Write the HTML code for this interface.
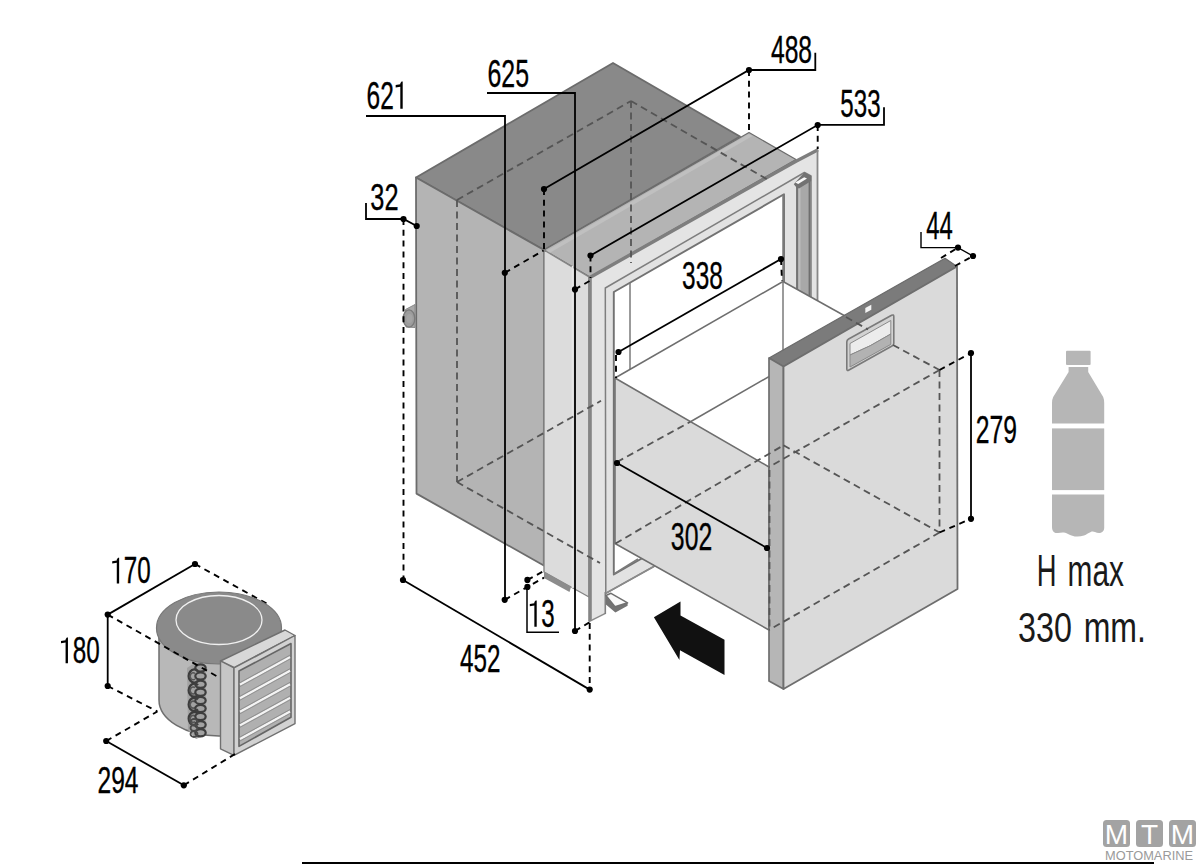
<!DOCTYPE html>
<html><head><meta charset="utf-8"><style>
html,body{margin:0;padding:0;background:#fff;}
svg{display:block;}
text{font-family:"Liberation Sans",sans-serif;}
</style></head><body>
<svg width="1200" height="864" viewBox="0 0 1200 864">
<rect width="1200" height="864" fill="#fff"/>
<polygon points="416,177.5 613,63 740,136.5 544,250" fill="#898989" stroke="#6c6c6c" stroke-width="1.8" stroke-linejoin="round" />
<polygon points="416,177.5 544,250 543.8,565.5 416.5,493.6" fill="#b4b4b4" stroke="#6c6c6c" stroke-width="1.8" stroke-linejoin="round" />
<polygon points="544,250 749,132.5 796,159.5 590,277" fill="#b4b4b4" stroke="#6c6c6c" stroke-width="1.2" stroke-linejoin="round" />
<polygon points="546,251 749,134 752.5,136 549.5,253" fill="#c0c0c0" stroke="none" stroke-width="1" stroke-linejoin="round" />
<polygon points="544,250 589,277 589,597 544,572" fill="#dcdcdc" stroke="#858585" stroke-width="1.4" stroke-linejoin="round" />
<line x1="572.5" y1="266" x2="572.5" y2="588" stroke="#e6e6e6" stroke-width="1.6" />
<polygon points="589,277.5 818,149.6 818,473 605.8,593.3 605.4,613.3 589,621.7" fill="#e4e4e4" stroke="none" stroke-width="1" stroke-linejoin="round" />
<polygon points="605.3,288 804.4,172.5 811,176 811,478 605.8,593.3" fill="#e2e2e2" stroke="#7e7e7e" stroke-width="1.5" stroke-linejoin="round" />
<polygon points="613.8,292 784,194.3 784,477 613.8,574.5" fill="#ffffff" stroke="#727272" stroke-width="1.9" stroke-linejoin="round" />
<line x1="630" y1="283" x2="630" y2="369" stroke="#7a7a7a" stroke-width="1.5" />
<polygon points="797,186 809.5,179 809.5,298 797,298" fill="#a8a8a8" stroke="#6e6e6e" stroke-width="1.8" stroke-linejoin="round" />
<line x1="799.5" y1="187" x2="799.5" y2="296" stroke="#bdbdbd" stroke-width="2" />
<polygon points="793.8,184.2 804.4,172.3 811.2,176 811.2,181 799,188.5 796.5,187.5" fill="#727272" stroke="none" stroke-width="1" stroke-linejoin="round" />
<polygon points="795.3,182.6 804.2,177.2 807,178.6 798.2,184" fill="#fafafa" stroke="none" stroke-width="1" stroke-linejoin="round" />
<polyline points="589,278 796,161.2 818,149.8" fill="none" stroke="#7e7e7e" stroke-width="3.4" stroke-linejoin="miter"/>
<line x1="590" y1="277" x2="590" y2="621" stroke="#858585" stroke-width="3.6" />
<line x1="817.5" y1="149.6" x2="817.5" y2="301" stroke="#888" stroke-width="1.8" />
<line x1="589" y1="621.7" x2="605.4" y2="613.3" stroke="#8a8a8a" stroke-width="1.4" />
<line x1="605.3" y1="592" x2="605.3" y2="614" stroke="#808080" stroke-width="1.6" />
<polygon points="605.9,596 615,606.5 627.6,602.8 627.6,605.8 615.4,612.5 605.9,604.5" fill="#737373" stroke="none" stroke-width="1" stroke-linejoin="round" />
<polygon points="605.9,595.5 611,593.3 627.6,602.8 615,606.8" fill="#fafafa" stroke="#707070" stroke-width="1.5" stroke-linejoin="round" />
<polygon points="544,571.5 571,587 569.5,592 544,578" fill="#8c8c8c" stroke="none" stroke-width="1" stroke-linejoin="round" />
<line x1="457" y1="200" x2="631" y2="101" stroke="#555" stroke-width="1.8" stroke-dasharray="7,4.5" />
<line x1="631" y1="101" x2="770" y2="181" stroke="#555" stroke-width="1.8" stroke-dasharray="7,4.5" />
<line x1="631" y1="101" x2="631" y2="263" stroke="#555" stroke-width="1.8" stroke-dasharray="7,4.5" />
<line x1="457" y1="200" x2="457" y2="482" stroke="#555" stroke-width="1.8" stroke-dasharray="7,4.5" />
<line x1="457" y1="482" x2="600" y2="563" stroke="#555" stroke-width="1.8" stroke-dasharray="7,4.5" />
<line x1="457" y1="482" x2="601" y2="400.8" stroke="#555" stroke-width="1.8" stroke-dasharray="7,4.5" />
<polygon points="615,378 783,281.5 845,316 769,358 769,467" fill="#ffffff" stroke="none" stroke-width="1" stroke-linejoin="round" />
<polygon points="615,378 769,467 769,630 615,543.5" fill="#dadada" stroke="#6e6e6e" stroke-width="1.5" stroke-linejoin="round" />
<line x1="615" y1="378" x2="783" y2="281.5" stroke="#6e6e6e" stroke-width="1.5" />
<line x1="783" y1="194.5" x2="783" y2="350" stroke="#7a7a7a" stroke-width="1.5" />
<line x1="783" y1="281.5" x2="845" y2="316" stroke="#6e6e6e" stroke-width="1.5" />
<line x1="690" y1="422" x2="783" y2="368.5" stroke="#6e6e6e" stroke-width="1.5" />
<line x1="617" y1="462" x2="690" y2="422" stroke="#555" stroke-width="1.8" stroke-dasharray="7,4.5" />
<line x1="613.5" y1="574.2" x2="638" y2="559" stroke="#7a7a7a" stroke-width="1.6" />
<line x1="605.8" y1="593.3" x2="654" y2="566.5" stroke="#8a8a8a" stroke-width="1.6" />
<polygon points="769,358 945,258.3 957,266.5 783.5,366.5" fill="#7b7b7b" stroke="#6a6a6a" stroke-width="1.2" stroke-linejoin="round" />
<polygon points="769,358 783.5,366.5 783.5,689 769,681" fill="#b6b6b6" stroke="#6e6e6e" stroke-width="1.7" stroke-linejoin="round" />
<polygon points="783.5,366.5 957,266.5 957.5,589 783.5,689" fill="#dadada" stroke="#6e6e6e" stroke-width="1.8" stroke-linejoin="round" />
<path d="M846.8,342 Q846.8,340 848.6,339 L891.6,315.3 Q893.8,314.2 893.8,316.5 L893.8,343.6 Q893.8,345 892,346 L849,370 Q846.8,371.3 846.8,369 Z" fill="#d2d2d2" stroke="#7a7a7a" stroke-width="1.6"/>
<path d="M850,343.5 L890.8,320.5 L890.8,334 Q870,347 850,355 Z" fill="#ececec" stroke="#8a8a8a" stroke-width="1"/>
<path d="M850,355 Q870,347 890.8,334 L890.8,344.4 L850,367 Z" fill="#b2b2b2" stroke="#8a8a8a" stroke-width="1"/>
<polygon points="865.3,308 871.3,304.8 871.3,309.8 865.3,313" fill="#f4f4f4" stroke="none" stroke-width="1" stroke-linejoin="round" />
<line x1="846" y1="317" x2="868" y2="329.5" stroke="#555" stroke-width="1.8" stroke-dasharray="7,4.5" />
<line x1="893" y1="345" x2="939.5" y2="370" stroke="#555" stroke-width="1.8" stroke-dasharray="7,4.5" />
<line x1="939.5" y1="370" x2="939.5" y2="532.5" stroke="#555" stroke-width="1.8" stroke-dasharray="7,4.5" />
<line x1="939.5" y1="370" x2="769" y2="467" stroke="#555" stroke-width="1.8" stroke-dasharray="7,4.5" />
<line x1="939.5" y1="532.5" x2="769" y2="630" stroke="#555" stroke-width="1.8" stroke-dasharray="7,4.5" />
<line x1="615.5" y1="543.5" x2="783.5" y2="445.3" stroke="#555" stroke-width="1.8" stroke-dasharray="7,4.5" />
<line x1="769.5" y1="470" x2="769.5" y2="628" stroke="#555" stroke-width="1.8" stroke-dasharray="7,4.5" />
<line x1="783.5" y1="445.3" x2="939.5" y2="532.5" stroke="#555" stroke-width="1.8" stroke-dasharray="7,4.5" />
<line x1="939.5" y1="370" x2="971" y2="353" stroke="#000" stroke-width="1.9" stroke-dasharray="6,4.8" />
<line x1="939.5" y1="532.5" x2="971" y2="518.8" stroke="#000" stroke-width="1.9" stroke-dasharray="6,4.8" />
<polygon points="415,304.5 405.5,309.5 406,327 415,327.5" fill="#a8a8a8" stroke="#8a8a8a" stroke-width="1" stroke-linejoin="round" />
<ellipse cx="409" cy="318.5" rx="5.8" ry="8.6" fill="#9c9c9c" stroke="#7a7a7a" stroke-width="1.4"/>
<ellipse cx="409.5" cy="318.5" rx="3" ry="4.5" fill="#a4a4a4"/>
<polyline points="366,116 505,116 505,600" fill="none" stroke="#000" stroke-width="1.8" stroke-linejoin="miter"/>
<circle cx="504.8" cy="272.8" r="3.1" fill="#000"/>
<line x1="504.8" y1="272.8" x2="543.6" y2="250.5" stroke="#000" stroke-width="1.9" stroke-dasharray="6,4.8" />
<circle cx="504.7" cy="599.8" r="3.1" fill="#000"/>
<line x1="504.7" y1="599.8" x2="544" y2="577.6" stroke="#000" stroke-width="1.9" stroke-dasharray="6,4.8" />
<text transform="translate(366.56,108.7) scale(0.6198,1)" font-size="39.54" fill="#000" stroke="#000" stroke-width="0.35">62 </text>
<path transform="translate(393.81,108.7) scale(0.01196,-0.01930)" d="M543,0 H743 V1409 H650 L543,1320 L543,1262 L156,1222 V1102 L543,1142 Z" fill="#000"/>
<polyline points="487,93 575,93 575,631" fill="none" stroke="#000" stroke-width="1.8" stroke-linejoin="miter"/>
<circle cx="575" cy="289.4" r="3.1" fill="#000"/>
<line x1="575" y1="289.4" x2="590.8" y2="280.2" stroke="#000" stroke-width="1.9" stroke-dasharray="6,4.8" />
<circle cx="575" cy="631" r="3.1" fill="#000"/>
<line x1="575" y1="631" x2="590" y2="622" stroke="#000" stroke-width="1.9" stroke-dasharray="6,4.8" />
<text transform="translate(487.54,87.2) scale(0.6435,1)" font-size="38.66" fill="#000" stroke="#000" stroke-width="0.35">625</text>
<polyline points="544,189 749,70 815.3,70 815.3,52.7" fill="none" stroke="#000" stroke-width="1.8" stroke-linejoin="miter"/>
<circle cx="544" cy="189" r="3.1" fill="#000"/>
<circle cx="749" cy="70" r="3.1" fill="#000"/>
<line x1="544" y1="189" x2="544" y2="250" stroke="#000" stroke-width="1.9" stroke-dasharray="6,4.8" />
<line x1="749" y1="70" x2="749" y2="132" stroke="#000" stroke-width="1.9" stroke-dasharray="6,4.8" />
<text transform="translate(770.93,62.8) scale(0.6377,1)" font-size="38.66" fill="#000" stroke="#000" stroke-width="0.35">488</text>
<polyline points="590.5,255.5 818,124.8 884,124.8 884,107.3" fill="none" stroke="#000" stroke-width="1.8" stroke-linejoin="miter"/>
<circle cx="590.5" cy="255.5" r="3.1" fill="#000"/>
<circle cx="817.7" cy="125" r="3.1" fill="#000"/>
<line x1="590.5" y1="255.5" x2="590.5" y2="278" stroke="#000" stroke-width="1.9" stroke-dasharray="6,4.8" />
<line x1="817.7" y1="125" x2="817.7" y2="149" stroke="#000" stroke-width="1.9" stroke-dasharray="6,4.8" />
<text transform="translate(840.33,117.2) scale(0.6283,1)" font-size="38.37" fill="#000" stroke="#000" stroke-width="0.35">533</text>
<polyline points="366,203 366,219 403.5,219 416.7,226" fill="none" stroke="#000" stroke-width="1.8" stroke-linejoin="miter"/>
<circle cx="403.5" cy="219" r="3.1" fill="#000"/>
<circle cx="416.7" cy="226" r="3.1" fill="#000"/>
<line x1="403.5" y1="219" x2="403.5" y2="580" stroke="#000" stroke-width="1.9" stroke-dasharray="6,4.8" />
<text transform="translate(370.33,209.8) scale(0.6824,1)" font-size="37.21" fill="#000" stroke="#000" stroke-width="0.35">32</text>
<line x1="403" y1="580" x2="589.7" y2="689.6" stroke="#000" stroke-width="1.8" />
<circle cx="403" cy="580" r="3.1" fill="#000"/>
<circle cx="589.7" cy="689.6" r="3.1" fill="#000"/>
<line x1="589.7" y1="623" x2="589.7" y2="689.6" stroke="#000" stroke-width="1.9" stroke-dasharray="6,4.8" />
<text transform="translate(459.94,672) scale(0.6298,1)" font-size="38.52" fill="#000" stroke="#000" stroke-width="0.35">452</text>
<polyline points="527,587 527,632.2 559,632.2" fill="none" stroke="#000" stroke-width="1.5" stroke-linejoin="miter"/>
<circle cx="527.4" cy="579.9" r="3.1" fill="#000"/>
<circle cx="527.4" cy="586.9" r="3.1" fill="#000"/>
<line x1="527.4" y1="579.9" x2="544" y2="571" stroke="#000" stroke-width="1.9" stroke-dasharray="6,4.8" />
<text transform="translate(527.97,626.8) scale(0.6277,1)" font-size="38.37" fill="#000" stroke="#000" stroke-width="0.35"> 3</text>
<path transform="translate(527.97,626.8) scale(0.01176,-0.01874)" d="M543,0 H743 V1409 H650 L543,1320 L543,1262 L156,1222 V1102 L543,1142 Z" fill="#000"/>
<line x1="618.5" y1="352" x2="781" y2="259" stroke="#000" stroke-width="1.8" />
<circle cx="618.5" cy="352" r="3.1" fill="#000"/>
<circle cx="781" cy="259" r="3.1" fill="#000"/>
<line x1="781" y1="259" x2="782" y2="281" stroke="#000" stroke-width="1.9" stroke-dasharray="6,4.8" />
<line x1="616" y1="355" x2="616" y2="378" stroke="#000" stroke-width="1.9" stroke-dasharray="6,4.8" />
<text transform="translate(682.07,289.3) scale(0.6404,1)" font-size="38.08" fill="#000" stroke="#000" stroke-width="0.35">338</text>
<line x1="617" y1="463" x2="767" y2="548" stroke="#000" stroke-width="1.8" />
<circle cx="617" cy="463" r="3.1" fill="#000"/>
<circle cx="767" cy="548" r="3.1" fill="#000"/>
<text transform="translate(670.86,550) scale(0.6490,1)" font-size="38.23" fill="#000" stroke="#000" stroke-width="0.35">302</text>
<line x1="971" y1="353" x2="971" y2="518.8" stroke="#000" stroke-width="1.8" />
<circle cx="971" cy="353" r="3.1" fill="#000"/>
<circle cx="971" cy="518.8" r="3.1" fill="#000"/>
<text transform="translate(975.76,442.6) scale(0.6341,1)" font-size="38.95" fill="#000" stroke="#000" stroke-width="0.35">279</text>
<polyline points="921,232 921,247.6 958,247.6 973,256" fill="none" stroke="#000" stroke-width="1.4" stroke-linejoin="miter"/>
<circle cx="958" cy="247.6" r="3.1" fill="#000"/>
<circle cx="973" cy="256" r="3.1" fill="#000"/>
<line x1="941" y1="258" x2="958" y2="247.6" stroke="#000" stroke-width="1.9" stroke-dasharray="6,4.8" />
<line x1="955" y1="266" x2="973" y2="256" stroke="#000" stroke-width="1.9" stroke-dasharray="6,4.8" />
<text transform="translate(926.15,239.4) scale(0.6081,1)" font-size="39.24" fill="#000" stroke="#000" stroke-width="0.35">44</text>
<line x1="195" y1="564" x2="268.7" y2="604.7" stroke="#000" stroke-width="1.9" stroke-dasharray="6,4.8" />
<path d="M159,628 L159,700 A60,36 0 0 0 219,736 L225,736 L225,640 Z" fill="#b8b8b8" stroke="#6e6e6e" stroke-width="1.5"/>
<ellipse cx="219" cy="628" rx="62.5" ry="36" fill="#8a8a8a" stroke="#777" stroke-width="1.2"/>
<ellipse cx="219" cy="620" rx="43" ry="24.5" fill="none" stroke="#f0f0f0" stroke-width="1.3"/>
<path d="M187,668 L196,662 L206,668 L206,735 L196,739 L188,730 Z" fill="#a2a2a2"/>
<path d="M198,671.0 A5.6,6.6 0 1 0 198,681.0" fill="none" stroke="#3c3c3c" stroke-width="2.4"/>
<path d="M195,673.5 A3,3.5 0 1 0 195,679.0" fill="none" stroke="#555" stroke-width="1.6"/>
<path d="M198,685.2 A5.6,6.6 0 1 0 198,695.2" fill="none" stroke="#3c3c3c" stroke-width="2.4"/>
<path d="M195,687.7 A3,3.5 0 1 0 195,693.2" fill="none" stroke="#555" stroke-width="1.6"/>
<path d="M198,699.4 A5.6,6.6 0 1 0 198,709.4" fill="none" stroke="#3c3c3c" stroke-width="2.4"/>
<path d="M195,701.9 A3,3.5 0 1 0 195,707.4" fill="none" stroke="#555" stroke-width="1.6"/>
<path d="M198,713.6 A5.6,6.6 0 1 0 198,723.6" fill="none" stroke="#3c3c3c" stroke-width="2.4"/>
<path d="M195,716.1 A3,3.5 0 1 0 195,721.6" fill="none" stroke="#555" stroke-width="1.6"/>
<ellipse cx="200.5" cy="668.0" rx="5.2" ry="3.6" fill="none" stroke="#3e3e3e" stroke-width="2.2"/>
<ellipse cx="200.5" cy="676.1" rx="5.2" ry="3.6" fill="none" stroke="#3e3e3e" stroke-width="2.2"/>
<ellipse cx="200.5" cy="684.2" rx="5.2" ry="3.6" fill="none" stroke="#3e3e3e" stroke-width="2.2"/>
<ellipse cx="200.5" cy="692.3" rx="5.2" ry="3.6" fill="none" stroke="#3e3e3e" stroke-width="2.2"/>
<ellipse cx="200.5" cy="700.4" rx="5.2" ry="3.6" fill="none" stroke="#3e3e3e" stroke-width="2.2"/>
<ellipse cx="200.5" cy="708.5" rx="5.2" ry="3.6" fill="none" stroke="#3e3e3e" stroke-width="2.2"/>
<ellipse cx="200.5" cy="716.6" rx="5.2" ry="3.6" fill="none" stroke="#3e3e3e" stroke-width="2.2"/>
<ellipse cx="200.5" cy="724.7" rx="5.2" ry="3.6" fill="none" stroke="#3e3e3e" stroke-width="2.2"/>
<ellipse cx="200.5" cy="732.8" rx="5.2" ry="3.6" fill="none" stroke="#3e3e3e" stroke-width="2.2"/>
<ellipse cx="194" cy="722" rx="3.5" ry="3" fill="none" stroke="#4a4a4a" stroke-width="1.8"/>
<ellipse cx="194" cy="728" rx="3.5" ry="3" fill="none" stroke="#4a4a4a" stroke-width="1.8"/>
<ellipse cx="194" cy="734" rx="3.5" ry="3" fill="none" stroke="#4a4a4a" stroke-width="1.8"/>
<line x1="107.7" y1="614.6" x2="220.6" y2="678.4" stroke="#000" stroke-width="1.9" stroke-dasharray="6,4.8" />
<polygon points="220.5,661 234,667.5 295,635.5 285,630" fill="#d8d8d8" stroke="#707070" stroke-width="1.4" stroke-linejoin="round" />
<polygon points="220.5,661 234,668 234,755.3 220.5,748.8" fill="#c6c6c6" stroke="#707070" stroke-width="1.4" stroke-linejoin="round" />
<polygon points="234,668 295,635.5 295,723.7 234,755.3" fill="#d2d2d2" stroke="#707070" stroke-width="1.4" stroke-linejoin="round" />
<polygon points="239,671 291,643.5 291,717.2 239,746.4" fill="#b0b0b0" stroke="#666" stroke-width="1.6" stroke-linejoin="round" />
<line x1="240" y1="684.6" x2="290" y2="657.1" stroke="#f4f4f4" stroke-width="2.2"/>
<line x1="240" y1="682.6" x2="290" y2="655.1" stroke="#8a8a8a" stroke-width="0.9"/>
<line x1="240" y1="686.6" x2="290" y2="659.1" stroke="#8e8e8e" stroke-width="0.9"/>
<line x1="240" y1="698.2" x2="290" y2="670.7" stroke="#f4f4f4" stroke-width="2.2"/>
<line x1="240" y1="696.2" x2="290" y2="668.7" stroke="#8a8a8a" stroke-width="0.9"/>
<line x1="240" y1="700.2" x2="290" y2="672.7" stroke="#8e8e8e" stroke-width="0.9"/>
<line x1="240" y1="711.8000000000001" x2="290" y2="684.3000000000001" stroke="#f4f4f4" stroke-width="2.2"/>
<line x1="240" y1="709.8000000000001" x2="290" y2="682.3000000000001" stroke="#8a8a8a" stroke-width="0.9"/>
<line x1="240" y1="713.8000000000001" x2="290" y2="686.3000000000001" stroke="#8e8e8e" stroke-width="0.9"/>
<line x1="240" y1="725.4" x2="290" y2="697.9" stroke="#f4f4f4" stroke-width="2.2"/>
<line x1="240" y1="723.4" x2="290" y2="695.9" stroke="#8a8a8a" stroke-width="0.9"/>
<line x1="240" y1="727.4" x2="290" y2="699.9" stroke="#8e8e8e" stroke-width="0.9"/>
<line x1="240" y1="739.0" x2="290" y2="711.5" stroke="#f4f4f4" stroke-width="2.2"/>
<line x1="240" y1="737.0" x2="290" y2="709.5" stroke="#8a8a8a" stroke-width="0.9"/>
<line x1="240" y1="741.0" x2="290" y2="713.5" stroke="#8e8e8e" stroke-width="0.9"/>
<line x1="195" y1="564" x2="107.7" y2="614.6" stroke="#000" stroke-width="1.8" />
<circle cx="195" cy="564" r="3.1" fill="#000"/>
<circle cx="107.7" cy="614.6" r="3.1" fill="#000"/>
<line x1="107.7" y1="614.6" x2="107.7" y2="686" stroke="#000" stroke-width="1.8" />
<circle cx="107.7" cy="686" r="3.1" fill="#000"/>
<line x1="106.2" y1="741" x2="183.8" y2="785.3" stroke="#000" stroke-width="1.8" />
<circle cx="106.2" cy="741" r="3.1" fill="#000"/>
<circle cx="183.8" cy="785.3" r="3.1" fill="#000"/>
<line x1="107.7" y1="686" x2="157.4" y2="711.5" stroke="#000" stroke-width="1.9" stroke-dasharray="6,4.8" />
<line x1="106.2" y1="741" x2="157.4" y2="711.5" stroke="#000" stroke-width="1.9" stroke-dasharray="6,4.8" />
<line x1="183.8" y1="785.3" x2="235.6" y2="753.7" stroke="#000" stroke-width="1.9" stroke-dasharray="6,4.8" />
<text transform="translate(110.36,583.4) scale(0.6506,1)" font-size="37.21" fill="#000" stroke="#000" stroke-width="0.35"> 70</text>
<path transform="translate(110.36,583.4) scale(0.01182,-0.01817)" d="M543,0 H743 V1409 H650 L543,1320 L543,1262 L156,1222 V1102 L543,1142 Z" fill="#000"/>
<text transform="translate(59.15,663.2) scale(0.6523,1)" font-size="37.21" fill="#000" stroke="#000" stroke-width="0.35"> 80</text>
<path transform="translate(59.15,663.2) scale(0.01185,-0.01817)" d="M543,0 H743 V1409 H650 L543,1320 L543,1262 L156,1222 V1102 L543,1142 Z" fill="#000"/>
<text transform="translate(97.46,792.5) scale(0.6562,1)" font-size="37.50" fill="#000" stroke="#000" stroke-width="0.35">294</text>
<polygon points="653.9,617.2 680.5,601.6 680.5,615.5 724.5,639.8 724.5,675 680,650.2 679.4,660" fill="#111" stroke="none" stroke-width="1" stroke-linejoin="round" />
<g fill="#b6b6b6"><rect x="1066" y="350.7" width="24.6" height="14.3" rx="1"/><path d="M1068.6,367 L1088.2,367 L1088.2,372 L1103.2,397 Q1104.2,399.5 1104.2,403 L1104.2,423.6 L1052,423.6 L1052,403 Q1052,399.5 1053.2,397 L1068.6,372 Z"/><rect x="1052" y="428.4" width="52.2" height="61.7"/><path d="M1052,494.4 L1104.2,494.4 L1104.2,528 C1104,533 1099,534 1095,532 C1091,530 1089,533.5 1084,535.5 C1078,537.5 1072,536.5 1068,534 C1064,531.5 1061,532.5 1058,533 C1054,533.5 1052,531 1052,527 Z"/></g>
<text transform="translate(1036.75,586) scale(0.6158,1)" font-size="44.48" fill="#1a1a1a" stroke="#1a1a1a" stroke-width="0">H</text>
<text transform="translate(1067.52,586) scale(0.6713,1)" font-size="44.48" fill="#1a1a1a" stroke="#1a1a1a" stroke-width="0">max</text>
<text transform="translate(1018.07,641.6) scale(0.7508,1)" font-size="43.02" fill="#1a1a1a" stroke="#1a1a1a" stroke-width="0">330</text>
<text transform="translate(1083.67,641.6) scale(0.7443,1)" font-size="43.02" fill="#1a1a1a" stroke="#1a1a1a" stroke-width="0">mm.</text>
<rect x="302" y="862" width="852" height="2" fill="#000"/>
<rect x="1103" y="820" width="27" height="27" rx="3.5" fill="#a3a3a3"/>
<text x="1116.5" y="844" font-size="28" text-anchor="middle" fill="#fff" font-weight="normal">M</text>
<rect x="1136" y="820" width="27" height="27" rx="3.5" fill="#a3a3a3"/>
<text x="1149.5" y="844" font-size="28" text-anchor="middle" fill="#fff" font-weight="normal">T</text>
<rect x="1169" y="820" width="27" height="27" rx="3.5" fill="#a3a3a3"/>
<text x="1182.5" y="844" font-size="28" text-anchor="middle" fill="#fff" font-weight="normal">M</text>
<text x="1105" y="860" font-size="13" textLength="88" lengthAdjust="spacingAndGlyphs" fill="#9a9a9a">MOTOMARINE</text>
</svg></body></html>
